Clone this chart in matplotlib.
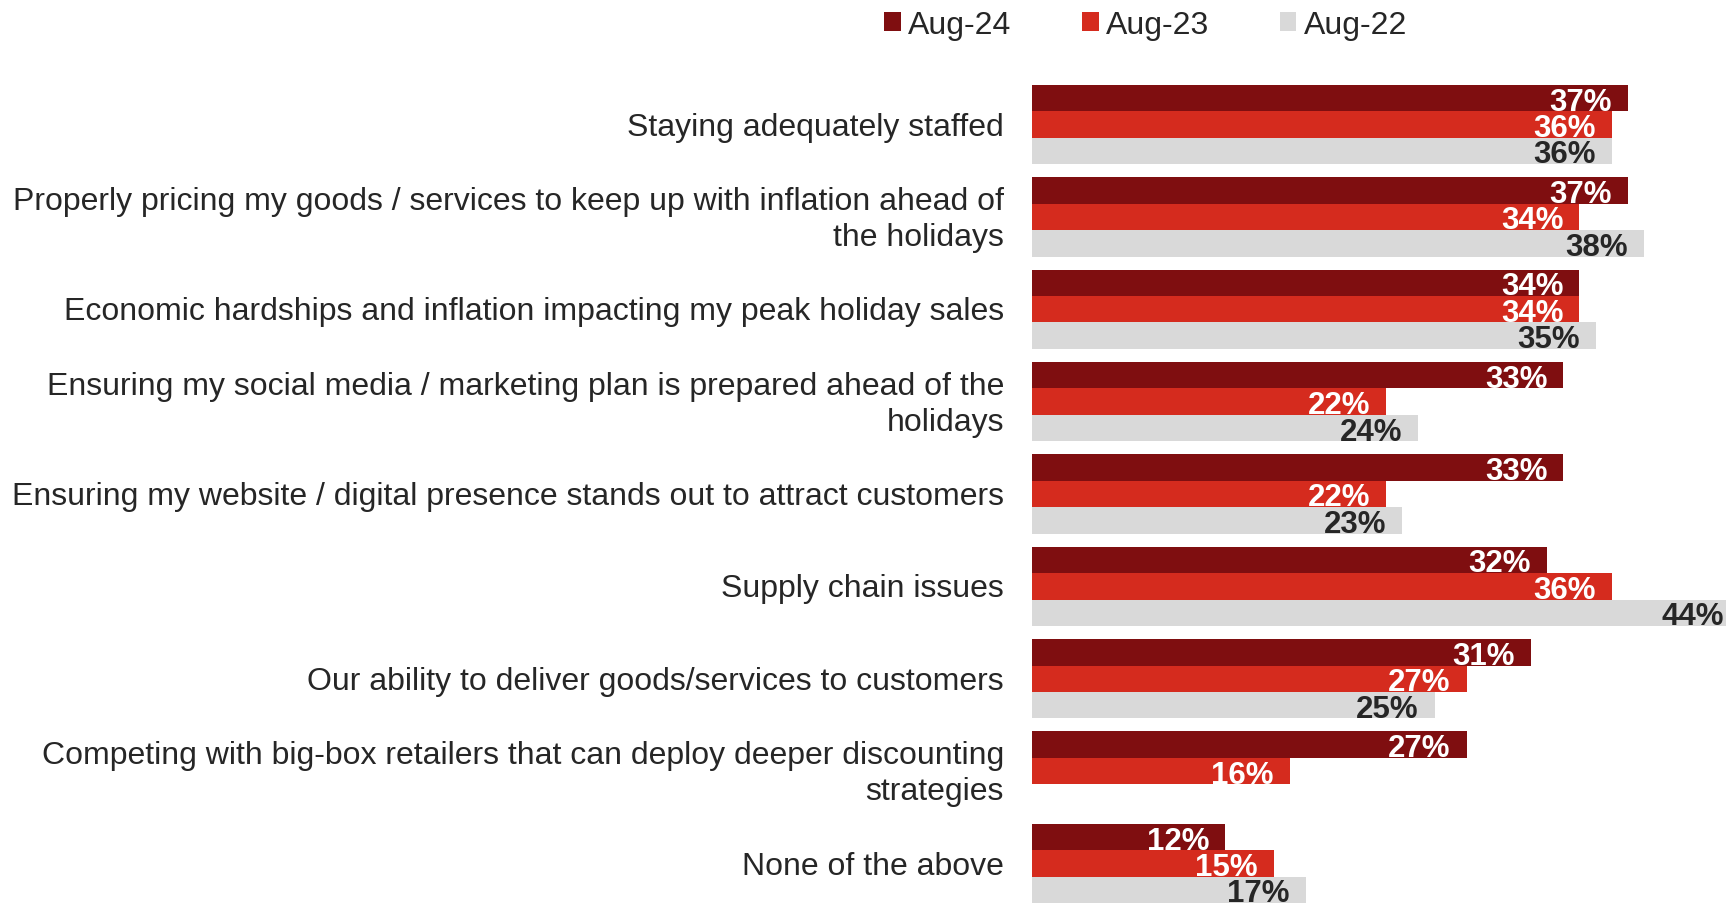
import matplotlib
matplotlib.use("Agg")
import matplotlib.pyplot as plt
import numpy as np

plt.rcParams['font.family'] = ['Liberation Sans', 'DejaVu Sans']

categories = [
    "Staying adequately staffed",
    "Properly pricing my goods / services to keep up with inflation ahead of\nthe holidays",
    "Economic hardships and inflation impacting my peak holiday sales",
    "Ensuring my social media / marketing plan is prepared ahead of the\nholidays",
    "Ensuring my website / digital presence stands out to attract customers",
    "Supply chain issues",
    "Our ability to deliver goods/services to customers",
    "Competing with big-box retailers that can deploy deeper discounting\nstrategies",
    "None of the above",
]
series_names = ["Aug-24", "Aug-23", "Aug-22"]
aug24 = [37, 37, 34, 33, 33, 32, 31, 27, 12]
aug23 = [36, 34, 34, 22, 22, 36, 27, 16, 15]
aug22 = [36, 38, 35, 24, 23, 44, 25, None, 17]

colors = ["#7F0E10", "#D52B1E", "#D9D9D9"]
label_colors = ["white", "white", "#262626"]
text_color = "#262626"

W, H = 1726, 904
fig = plt.figure(figsize=(W / 100, H / 100), dpi=100)
ax_left = 1032 / W
ax_top = 86 / H
ax = fig.add_axes([ax_left, 0, 1 - ax_left, 1 - ax_top])

group_pitch = 3.5
bar_h = 1.0
handles = []
for j, (vals, name) in enumerate(zip([aug24, aug23, aug22], series_names)):
    ys, xs = [], []
    for i, v in enumerate(vals):
        if v is None:
            continue
        ys.append(i * group_pitch + j + 0.5)
        xs.append(v)
    bars = ax.barh(ys, xs, height=bar_h, color=colors[j], label=name, linewidth=0)
    handles.append(bars)
    for y, v in zip(ys, xs):
        ax.annotate(f"{v}%", xy=(v, y), xytext=(-11.5, -2.5), textcoords="offset points",
                    ha="right", va="center", fontsize=22.5, fontweight="bold",
                    color=label_colors[j], annotation_clip=False, clip_on=False)

ax.set_xlim(0, 694 / 16.1)
ax.set_ylim(31, 0)
ax.axis("off")

# category labels to the left of each group
for i, cat in enumerate(categories):
    yc = i * group_pitch + 1.5
    ax.annotate(cat, xy=(0, yc), xycoords=("data", "data"), xytext=(-20.2, -1.5),
                textcoords="offset points", ha="right", va="center", fontsize=23,
                color=text_color, multialignment="right", linespacing=1.25,
                annotation_clip=False)

fig.legend(handles=handles, labels=series_names, loc="upper left",
           bbox_to_anchor=(884 / W, 1 - 11 / H), ncol=3, frameon=False,
           fontsize=23, handlelength=0.52, handleheight=0.52, handletextpad=0.24,
           columnspacing=2.2, borderpad=0, borderaxespad=0, labelcolor=text_color)

fig.savefig("out.png", dpi=100)
